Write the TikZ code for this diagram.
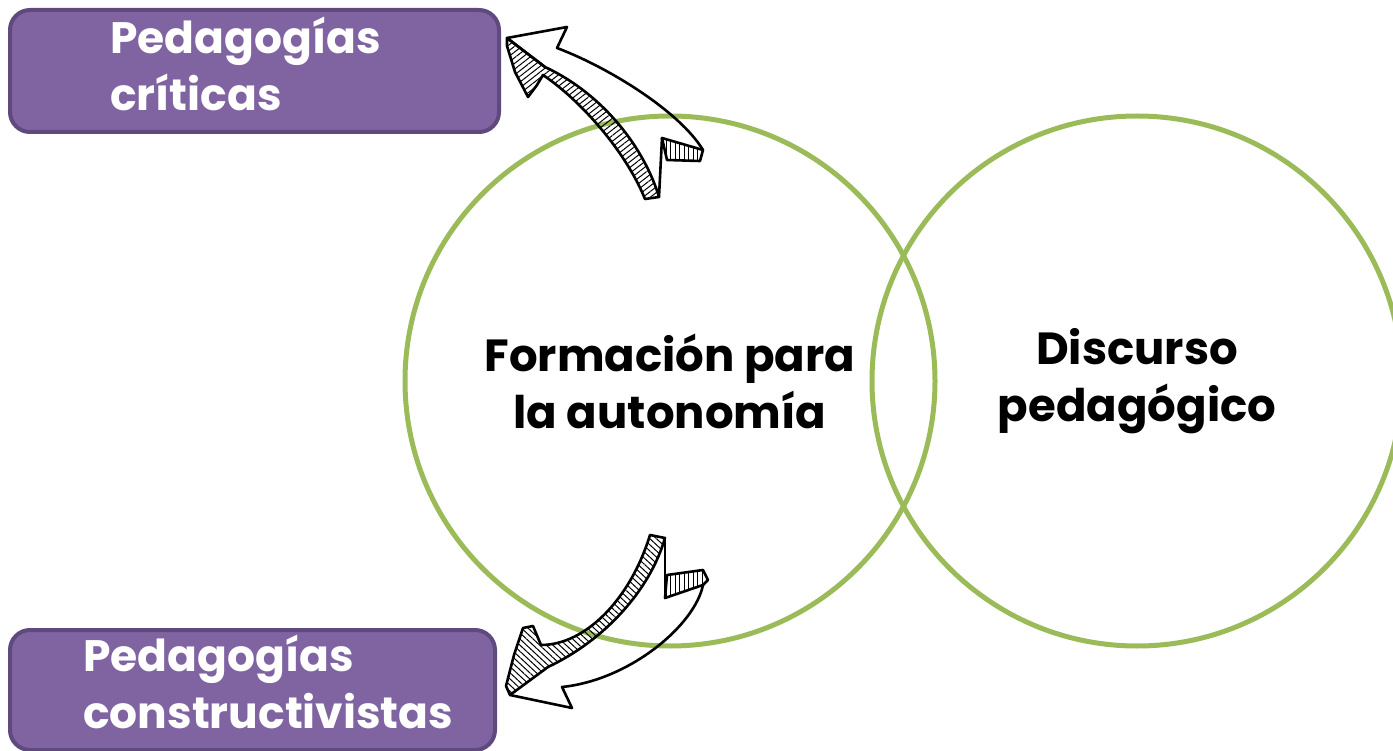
\documentclass[tikz,border=0pt]{standalone}
\usepackage{fontspec}
\setmainfont{Poppins}
\usetikzlibrary{patterns.meta}
\definecolor{vgreen}{HTML}{9BBB59}
\definecolor{pfill}{HTML}{8064A2}
\definecolor{pline}{HTML}{5F4A7E}
\begin{document}
\begin{tikzpicture}[x=1pt,y=-1pt,
  ring/.style={circle,draw=vgreen,line width=5pt,minimum size=530pt,inner sep=0pt,
    align=center,font=\bfseries\fontsize{45}{57}\selectfont},
  pbox/.style={draw=pline,fill=pfill,line width=4pt,rounded corners=20pt,inner sep=0pt},
  ptext/.style={font=\bfseries\fontsize{44}{57}\selectfont,text=white,align=left,inner sep=0pt},
  face/.style={draw=black,line width=2.6pt,line join=round,line cap=round},
  hatchA/.style={face,pattern={Lines[angle=38,distance=4.5pt,line width=1pt]}},
  hatchB/.style={face,pattern={Lines[angle=-43,distance=4.5pt,line width=1pt]}},
  hatchV/.style={face,pattern={Lines[angle=90,distance=4.5pt,line width=1pt]}},
]
\useasboundingbox (0,0) rectangle (1393,751);
% circles
\node[ring] (fa) at (670,381) {Formación para\\la autonomía};
\node[ring] (dp) at (1137,381) {Discurso\\pedagógico};
% boxes
\node[pbox,minimum width=489pt,minimum height=122pt,anchor=north west] (b1) at (8,8) {};
\node[pbox,minimum width=485pt,minimum height=120pt,anchor=north west] (b2) at (8,628) {};
\node[ptext,anchor=north west] (t1) at (110,17) {Pedagogías\\críticas};
\node[ptext,anchor=north west] (t2) at (83,635) {Pedagogías\\constructivistas};
% top arrow
\draw[hatchA] (507,38) -- (507,46) -- (515,72) -- (528,97) -- (537,85) -- (543,75)
  .. controls (580,100) and (625,150) .. (645,199) -- (659,197)
  .. controls (645,150) and (605,95) .. (545,67) -- cycle;
\draw[hatchV] (662,138) -- (703,150) -- (700,161) -- (667,160) -- cycle;
\draw[face] (662,138) -- (659,197);
\draw[face] (545,67) -- (507,38) -- (567,27) -- (557,48)
  .. controls (610,68) and (680,112) .. (703,150);
% bottom arrow
\draw[hatchB] (510,695) -- (506,686) -- (514,655) -- (523,628) -- (533,626) -- (541,645)
  .. controls (585,645) and (630,600) .. (650,535) -- (665,538)
  .. controls (650,590) and (605,640) .. (548,667) -- cycle;
\draw[hatchV] (665,598) -- (667,575) -- (703,570) -- (708,580) -- (703,585) -- cycle;
\draw[face] (665,538) -- (665,598);
\draw[face] (703,585) .. controls (695,625) and (630,680) .. (562,687)
  -- (572,708) -- (510,695);
\end{tikzpicture}
\end{document}
